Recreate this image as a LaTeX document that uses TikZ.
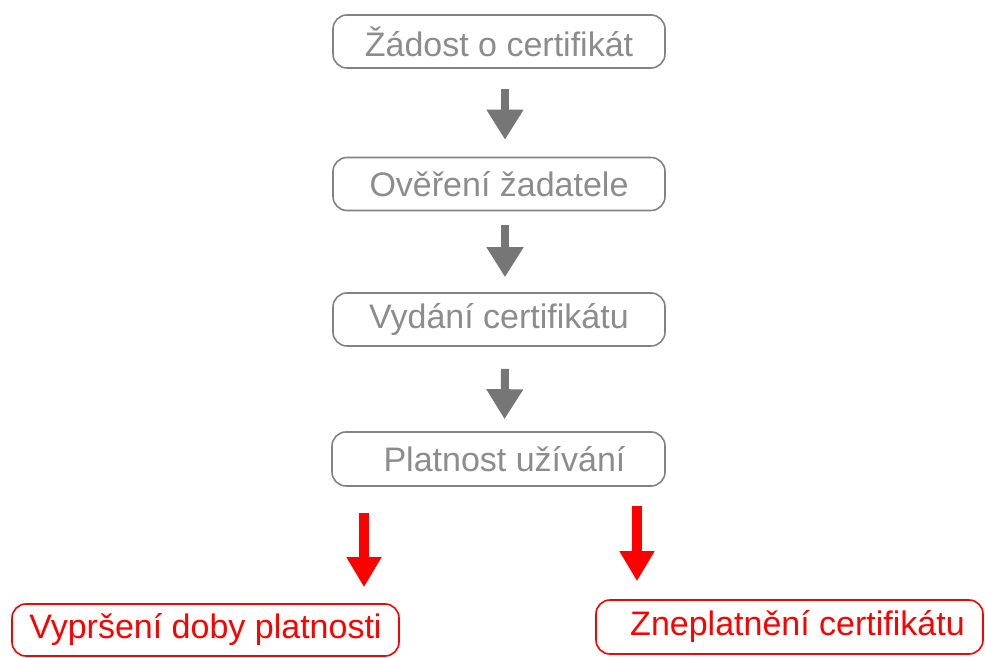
\documentclass[tikz,border=0pt]{standalone}
\usepackage{fontspec}
\setmainfont{Liberation Sans}
\usetikzlibrary{arrows.meta}
\definecolor{boxgray}{RGB}{130,130,130}
\definecolor{txtgray}{RGB}{140,140,140}
\definecolor{arrgray}{RGB}{118,118,118}
\definecolor{myred}{RGB}{255,0,0}
\tikzset{
  graybox/.style={draw=boxgray, line width=1.6pt, rounded corners=14pt, text=txtgray,
    minimum width=332pt, minimum height=53pt, inner sep=0pt,
    font=\fontsize{34}{39}\selectfont},
  redbox/.style={draw=myred, line width=1.6pt, rounded corners=14pt, text=myred,
    minimum width=387pt, minimum height=53pt, inner sep=0pt,
    font=\fontsize{34}{39}\selectfont},
  grayarrow/.style={draw=arrgray, line width=8pt, -{Triangle[width=35pt,length=30pt]}, arrgray},
  redarrow/.style={draw=myred, line width=10pt, -{Triangle[width=33pt,length=30pt]}, myred}
}
\begin{document}
\begin{tikzpicture}[x=1pt,y=1pt]
\useasboundingbox (0,0) rectangle (985,658);
\node[graybox] (b1) at (499,616.5) {Žádost o certifikát};
\node[graybox] (b2) at (499,474) {Ověření žadatele};
\node[graybox] (b3) at (499,338.5) {Vydání certifikátu};
\node[graybox, minimum width=333pt, minimum height=54pt] (b4) at (498.5,199) {\hspace{12pt}Platnost užívání};
\node[redbox, minimum height=52pt] (b5) at (205.5,28) {Vypršení doby platnosti};
\node[redbox, minimum height=54pt] (b6) at (789.5,31) {\hspace{16pt}Zneplatnění certifikátu};
\draw[grayarrow] ([shift={(6,-20)}]b1.south) -- ([shift={(6,17)}]b2.north);
\draw[grayarrow] ([shift={(6,-14)}]b2.south) -- ([shift={(6,15)}]b3.north);
\draw[grayarrow] ([shift={(6,-22)}]b3.south) -- ([shift={(6,12)}]b4.north);
\draw[redarrow] ([shift={(-134.5,-26)}]b4.south) -- ([shift={(158.5,16)}]b5.north);
\draw[redarrow] ([shift={(138.5,-19)}]b4.south) -- ([shift={(-152.5,18)}]b6.north);
\end{tikzpicture}
\end{document}
